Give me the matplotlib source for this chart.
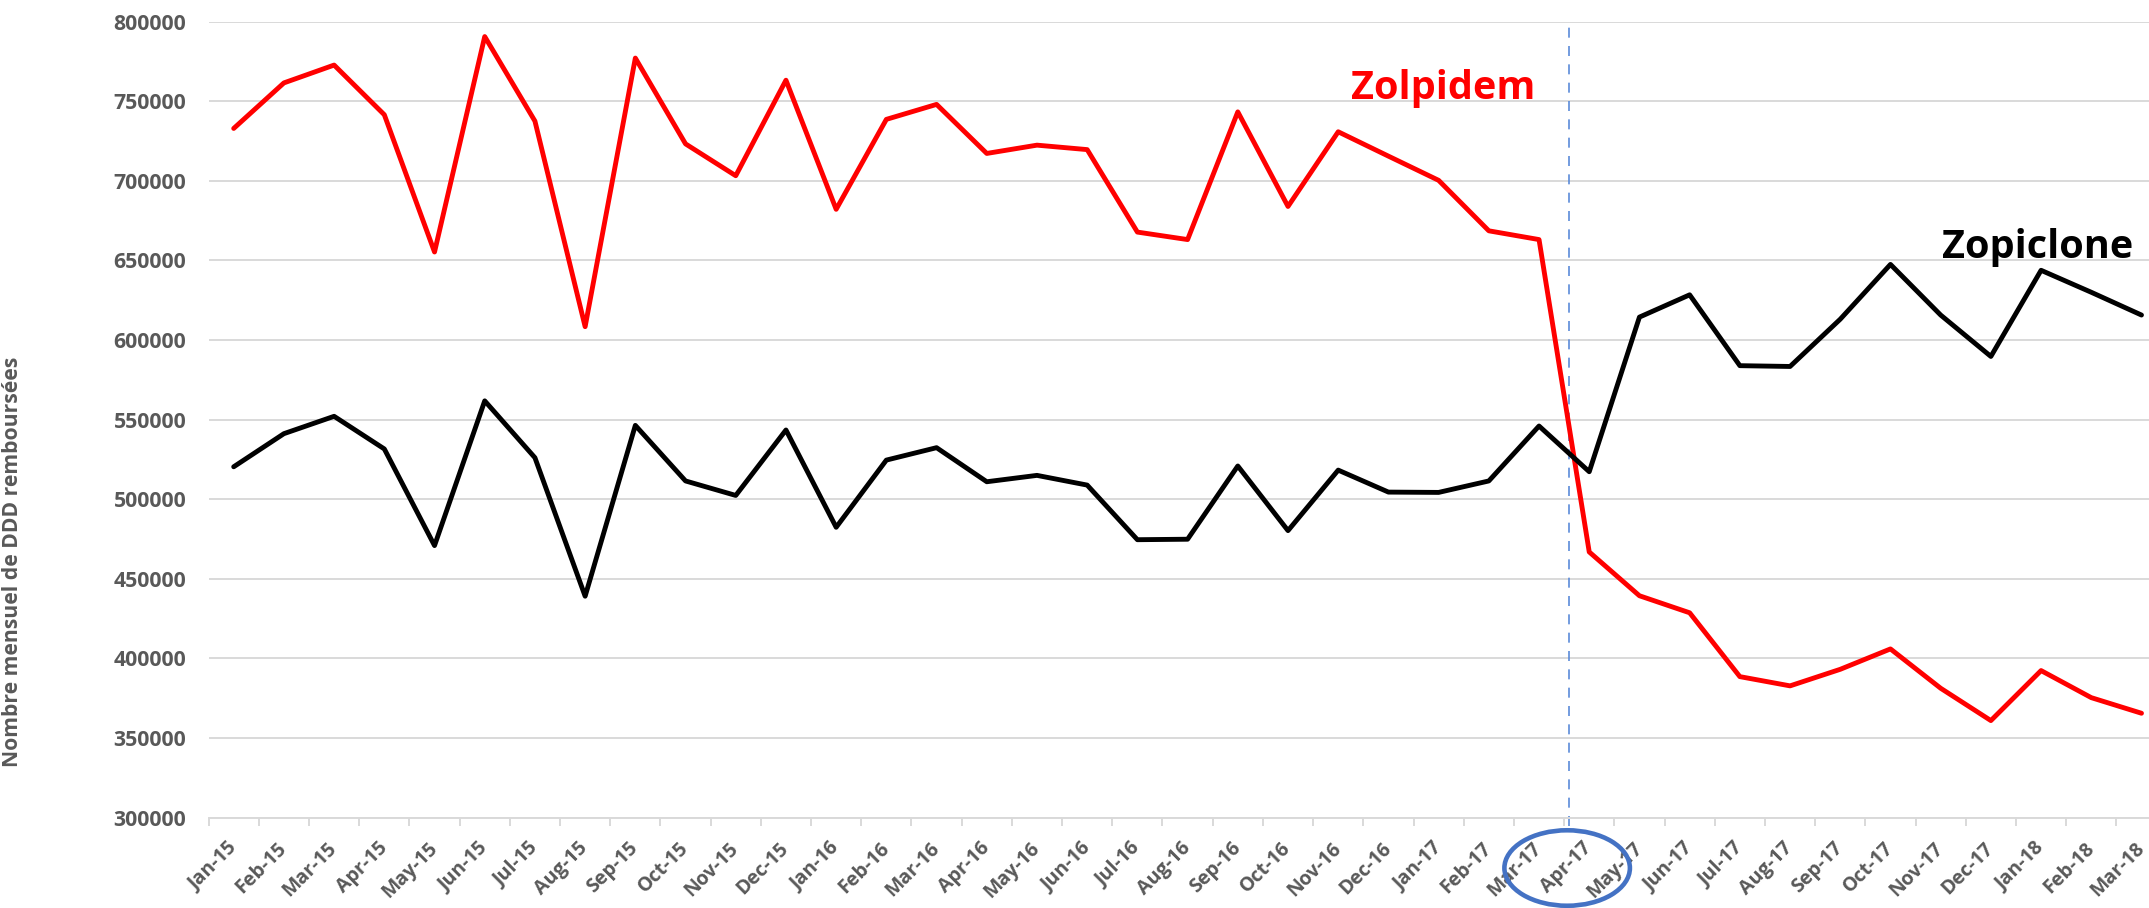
import matplotlib
matplotlib.use("Agg")
import matplotlib.pyplot as plt
from matplotlib.patches import Ellipse

months = ["Jan-15", "Feb-15", "Mar-15", "Apr-15", "May-15", "Jun-15", "Jul-15", "Aug-15",
          "Sep-15", "Oct-15", "Nov-15", "Dec-15", "Jan-16", "Feb-16", "Mar-16", "Apr-16",
          "May-16", "Jun-16", "Jul-16", "Aug-16", "Sep-16", "Oct-16", "Nov-16", "Dec-16",
          "Jan-17", "Feb-17", "Mar-17", "Apr-17", "May-17", "Jun-17", "Jul-17", "Aug-17",
          "Sep-17", "Oct-17", "Nov-17", "Dec-17", "Jan-18", "Feb-18", "Mar-18"]

zolpidem = [732900, 761500, 772700, 741500, 655300, 790600, 737500, 608400,
            777100, 723200, 703200, 763200, 682100, 738600, 748000, 717200,
            722400, 719600, 667800, 663100, 743300, 683900, 730800, 715500,
            700300, 668600, 663100, 466900, 439400, 428700, 388600, 382800,
            393200, 406000, 381300, 361000, 392400, 375400, 365600]

zopiclone = [520400, 541200, 552100, 531600, 470900, 561800, 526100, 439100,
             546400, 511500, 502400, 543500, 482400, 524600, 532400, 511000,
             515000, 508900, 474600, 474900, 520900, 480300, 518300, 504500,
             504300, 511500, 546000, 517300, 614400, 628400, 583900, 583400,
             613100, 647500, 615700, 589700, 643800, 630000, 615700]

y_ticks = [300000, 350000, 400000, 450000, 500000, 550000, 600000, 650000, 700000, 750000, 800000]

W, H = 2149, 908
fig = plt.figure(figsize=(W / 100, H / 100), dpi=100)
plt.rcParams['font.family'] = ['Open Sans', 'DejaVu Sans']

left_px, right_px = 208.6, 208.6 + 39 * 50.205
top_px, bot_px = 21.6, 817.7
ax = fig.add_axes([left_px / W, 1 - bot_px / H, (right_px - left_px) / W, (bot_px - top_px) / H])

x = list(range(len(months)))
ax.plot(x, zolpidem, color="#FF0000", lw=3.5, solid_joinstyle="round", solid_capstyle="round", zorder=3)
ax.plot(x, zopiclone, color="#000000", lw=3.5, solid_joinstyle="round", solid_capstyle="round", zorder=3)

ax.set_xlim(-0.5, len(months) - 0.5)
ax.set_ylim(300000, 800000)
ax.set_yticks(y_ticks)
ax.set_yticklabels([str(v) for v in y_ticks])
ax.grid(axis="y", color="#D9D9D9", lw=1.4, zorder=0)
ax.set_axisbelow(True)

for s in ["top", "right", "left"]:
    ax.spines[s].set_visible(False)
ax.spines["bottom"].set_color("#D9D9D9")
ax.spines["bottom"].set_linewidth(1.4)

ax.tick_params(axis="y", length=0, pad=16, labelsize=15.3, labelcolor="#595959")
for lab in ax.get_yticklabels():
    lab.set_fontweight("bold")

ax.set_xticks(x)
ax.set_xticklabels(months, rotation=45, ha="right", va="center", rotation_mode="anchor",
                   fontsize=14, fontweight="bold", color="#595959")
ax.tick_params(axis="x", which="major", length=0, pad=20)
ax.set_xticks([i - 0.5 for i in range(len(months) + 1)], minor=True)
ax.tick_params(axis="x", which="minor", length=5.5, width=1.4, color="#D9D9D9")

# vertical dashed line
ax.axvline(26.6, ymin=-0.01, ymax=1.0, color="#5B8BD9", lw=1.2, ls=(0, (6, 5)), clip_on=False, zorder=2)

# ellipse around Apr-17 label
ell = Ellipse((26.56, 268400), 2.5, 47400, fill=False, edgecolor="#4472C4", lw=3.3,
              clip_on=False, zorder=5)
ax.add_patch(ell)

ax.text(22.26, 751100, "Zolpidem", color="#FF0000", fontsize=28.5, fontweight="bold",
        ha="left", va="baseline")
ax.text(34.03, 651500, "Zopiclone", color="#000000", fontsize=28.5, fontweight="bold",
        ha="left", va="baseline")

fig.text(13 / W, 1 - 562 / H, "Nombre mensuel de DDD remboursées", rotation=90,
         ha="center", va="center", fontsize=15.2, fontweight="bold", color="#595959")

fig.savefig("out.png", dpi=100)
